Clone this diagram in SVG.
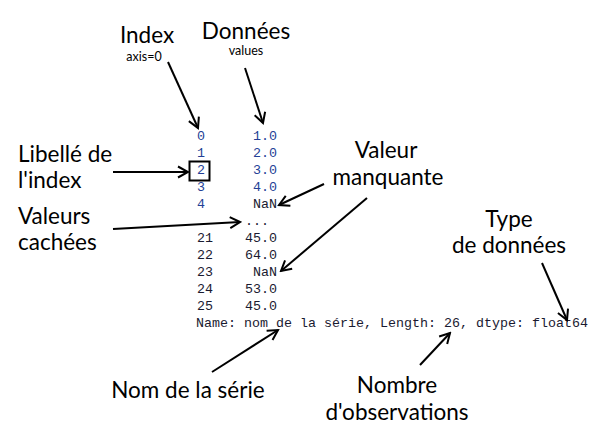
<svg xmlns="http://www.w3.org/2000/svg" width="606" height="439" viewBox="0 0 606 439">
<style>
.lbl{font-family:Lato,"Open Sans","Liberation Sans",sans-serif;font-size:22.5px;fill:#000}
.sm{font-family:Lato,"Open Sans","Liberation Sans",sans-serif;font-size:12.5px;fill:#000}
.mono{font-family:"Liberation Mono","Courier New",monospace;font-size:13.33px}
.b{fill:#233f96}
.d{fill:#1a1a30}
.arr{stroke:#000;stroke-width:2;fill:none;marker-end:url(#ah)}
</style>
<defs>
<marker id="ah" markerUnits="userSpaceOnUse" markerWidth="14" markerHeight="14" viewBox="0 0 14 14" refX="12" refY="7" orient="auto">
<path d="M2,1.5 L12,7 L2,12.5" fill="none" stroke="#000" stroke-width="2"/>
</marker>
</defs>
<rect width="606" height="439" fill="#fff"/>
<g id="series">
<text class="mono b" x="197" y="140">0</text>
<text class="mono b" x="197" y="157">1</text>
<text class="mono b" x="197" y="174">2</text>
<text class="mono b" x="197" y="191">3</text>
<text class="mono b" x="197" y="208">4</text>
<text class="mono b" x="277" y="140" text-anchor="end">1.0</text>
<text class="mono b" x="277" y="157" text-anchor="end">2.0</text>
<text class="mono b" x="277" y="174" text-anchor="end">3.0</text>
<text class="mono b" x="277" y="191" text-anchor="end">4.0</text>
<text class="mono d" x="277" y="208" text-anchor="end">NaN</text>
<text class="mono d" x="245" y="225">...</text>
<text class="mono d" x="197" y="242">21</text>
<text class="mono d" x="197" y="259">22</text>
<text class="mono d" x="197" y="276">23</text>
<text class="mono d" x="197" y="293">24</text>
<text class="mono d" x="197" y="310">25</text>
<text class="mono d" x="277" y="242" text-anchor="end">45.0</text>
<text class="mono d" x="277" y="259" text-anchor="end">64.0</text>
<text class="mono d" x="277" y="276" text-anchor="end">NaN</text>
<text class="mono d" x="277" y="293" text-anchor="end">53.0</text>
<text class="mono d" x="277" y="310" text-anchor="end">45.0</text>
<text class="mono d" x="196" y="327">Name: nom de la série, Length: 26, dtype: float64</text>
<rect x="189.5" y="161.5" width="20" height="19" fill="none" stroke="#000" stroke-width="2"/>
</g>
<g id="label-index">
<text class="lbl" x="147" y="43" text-anchor="middle">Index</text>
<text class="sm" x="144" y="61" text-anchor="middle">axis=0</text>
</g>
<g id="label-donnees">
<text class="lbl" x="246" y="39" text-anchor="middle">Données</text>
<text class="sm" x="246" y="55" text-anchor="middle">values</text>
</g>
<g id="label-libelle">
<text class="lbl" x="18" y="162">Libellé de</text>
<text class="lbl" x="18" y="188">l'index</text>
</g>
<g id="label-cachees">
<text class="lbl" x="18" y="224">Valeurs</text>
<text class="lbl" x="18" y="250">cachées</text>
</g>
<g id="label-manquante">
<text class="lbl" x="386" y="158" text-anchor="middle">Valeur</text>
<text class="lbl" x="388" y="185" text-anchor="middle">manquante</text>
</g>
<g id="label-type">
<text class="lbl" x="509" y="227" text-anchor="middle">Type</text>
<text class="lbl" x="509" y="253" text-anchor="middle">de données</text>
</g>
<g id="label-nom">
<text class="lbl" x="188" y="398" text-anchor="middle">Nom de la série</text>
</g>
<g id="label-nombre">
<text class="lbl" x="397" y="393" text-anchor="middle">Nombre</text>
<text class="lbl" x="397" y="420" text-anchor="middle">d'observations</text>
</g>
<g id="connectors">
<line class="arr" x1="168" y1="62" x2="198" y2="128"/>
<line class="arr" x1="245" y1="68" x2="263" y2="123"/>
<line class="arr" x1="113" y1="172" x2="188" y2="172"/>
<line class="arr" x1="113" y1="229" x2="240" y2="222"/>
<line class="arr" x1="324" y1="184" x2="279" y2="205"/>
<line class="arr" x1="367" y1="198" x2="281" y2="271"/>
<line class="arr" x1="542" y1="263" x2="567" y2="320"/>
<line class="arr" x1="212" y1="372" x2="278" y2="330"/>
<line class="arr" x1="420" y1="365" x2="450" y2="333"/>
</g>
</svg>
